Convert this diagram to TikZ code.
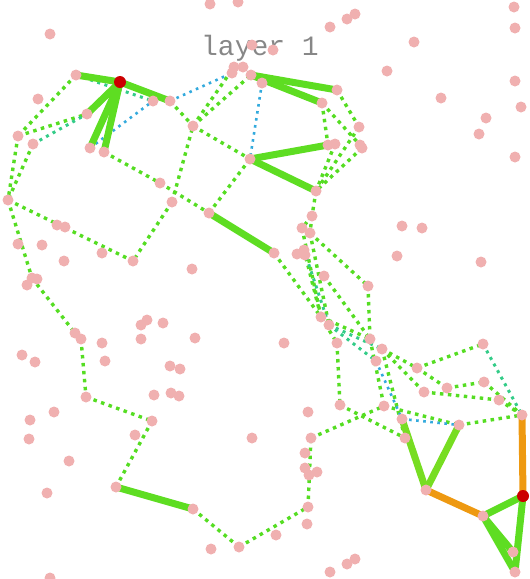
\documentclass[tikz,border=0pt]{standalone}
\usepackage{fontspec}
\newfontfamily\labelfont{Liberation Mono}
\usetikzlibrary{backgrounds}
\definecolor{dotpink}{HTML}{F0B0B0}
\definecolor{dotred}{HTML}{CC0000}
\definecolor{gthick}{HTML}{5EDD22}
\definecolor{glight}{HTML}{77DD22}
\definecolor{gdot}{HTML}{55DD22}
\definecolor{tdot}{HTML}{33CC88}
\definecolor{bdot}{HTML}{33AADD}
\definecolor{orng}{HTML}{EE9911}
\tikzset{
  dot/.style={circle,fill=dotpink,draw=none,minimum size=11pt,inner sep=0pt},
  hub/.style={circle,fill=dotred,draw=none,minimum size=12pt,inner sep=0pt},
  gd/.style={draw=gdot,line width=3.4pt,dash pattern=on 3.5pt off 4.5pt},
  td/.style={draw=tdot,line width=3pt,dash pattern=on 3pt off 4.5pt},
  bd/.style={draw=bdot,line width=2.6pt,dash pattern=on 2.6pt off 4.5pt},
  tg/.style={draw=gthick,line width=7pt},
  tl/.style={draw=glight,line width=7pt},
  to/.style={draw=orng,line width=7pt},
}
\begin{document}
\begin{tikzpicture}[x=1pt,y=-1pt]
\useasboundingbox (0,0) rectangle (530,579);
\node[anchor=base,text=black!47,font=\labelfont\fontsize{28}{28}\selectfont] (title) at (260,55) {layer 1};
% nodes
\foreach \n/\x/\y in {t1/210/4,t2/238/2,t3/50/34,t4/252/45,t5/273/50,t6/330/27,t7/347/19,t8/355/14,t9/414/42,t10/387/71,t11/441/98,t12/486/118,t13/479/134,t14/514/7,t15/515/28,t16/515/81,t17/521/107,t18/515/157,
a1/38/99,a2/76/75,a3/153/101,a4/170/101,a5/87/114,a6/18/136,a7/33/144,a8/90/148,a9/104/152,a10/193/126,a11/160/183,a12/250/159,c1/232/73,c2/234/67,c3/243/67,c4/251/75,c5/262/83,a13/8/200,a14/172/202,
b1/322/103,b2/337/90,b3/359/127,b4/328/145,b5/335/144,b6/360/145,b7/362/148,b8/316/191,
m1/57/225,m2/65/227,m3/18/244,m4/42/245,m5/64/261,m6/102/253,m7/133/261,m8/209/213,m9/192/269,m10/32/278,m11/37/279,m12/27/285,m13/75/333,m14/81/339,m15/102/343,m16/105/361,m17/22/355,m18/35/362,m19/141/325,m20/147/320,m21/163/323,m22/141/339,m23/195/338,m24/170/366,m25/180/369,m26/274/253,
r1/312/216,r2/302/228,r3/310/233,r4/297/254,r5/304/250,r6/305/255,r7/402/226,r8/422/228,r9/397/256,r10/481/262,r11/324/276,r12/368/286,r13/284/343,r14/321/317,r15/329/325,r16/337/343,r17/370/339,r18/382/349,r19/376/361,r20/417/368,r21/483/344,r22/484/382,r23/447/388,r24/424/392,r25/499/400,r26/522/415,r27/459/425,r28/402/419,r29/384/406,r30/405/438,r31/340/405,r32/308/412,r33/311/438,
d1/86/397,d2/154/395,d3/171/393,d4/179/396,d5/152/421,d6/30/420,d7/54/412,d8/29/439,d9/135/435,d10/69/461,d11/252/438,d12/116/487,d13/47/493,d14/193/509,d15/211/549,d16/239/547,d17/50/578,
e1/305/453,e2/305/468,e3/317/472,e4/309/475,e5/426/490,e6/483/516,e7/308/507,e8/307/524,e9/276/535,e10/513/552,e11/515/572,e12/330/572,e13/347/564,e14/355/559}
  {\node[dot] (\n) at (\x,\y) {};}
\node[hub] (R1) at (120,82) {};
\node[hub] (R2) at (523,496) {};
\begin{pgfonlayer}{background}
% dotted green
\foreach \u/\v in {a2/a6,a6/a5,a6/a13,a7/a13,a9/a11,a11/m8,a14/a10,a10/c2,a10/c4,a4/a10,a10/a12,m8/a12,a14/m7,a13/m7,a13/m10,m10/m13,m14/d1,d1/d5,d5/d12,d14/d16,d16/e7,e7/r33,r33/r29,r31/r30,r16/r31,r14/r16,
b2/b3,b1/b6,b1/b4,b3/b8,b7/b8,b5/b8,b8/r1,r1/r3,r1/r2,r2/r14,r5/r14,r3/r12,r11/r17,r12/r17,m26/r14,r14/r17,r3/r15,
r18/r20,r18/r24,r20/r21,r20/r23,r23/r22,r24/r25,r22/r26,r25/r26,r27/r26,r29/r27,r18/r30,r17/r29}
  {\draw[gd] (\u.center) -- (\v.center);}
% dotted teal
\foreach \u/\v in {a7/a5,a2/a3,r5/r15,r15/r19,r21/r26,r15/r18}
  {\draw[td] (\u.center) -- (\v.center);}
% dotted blue
\foreach \u/\v in {a8/a3,a4/c1,c5/a12,r19/r28,r28/r27}
  {\draw[bd] (\u.center) -- (\v.center);}
% thick green
\foreach \u/\v in {a2/R1,R1/a4,R1/a5,R1/a8,R1/a9,c4/b2,c4/b1,a12/b4,a12/b8,m8/m26,d12/d14,e6/R2,R2/e11,e6/e10,e6/e11}
  {\draw[tg] (\u.center) -- (\v.center);}
\foreach \u/\v in {r28/e5,r27/e5}
  {\draw[tl] (\u.center) -- (\v.center);}
\foreach \u/\v in {e5/e6,r26/R2}
  {\draw[to] (\u.center) -- (\v.center);}
\end{pgfonlayer}
\end{tikzpicture}
\end{document}
